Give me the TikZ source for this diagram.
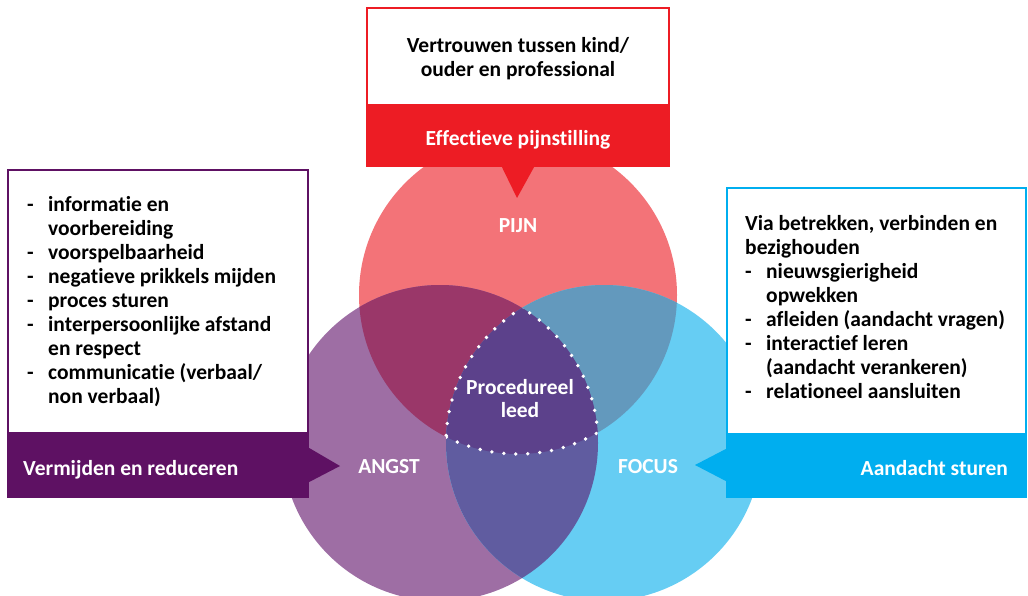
\documentclass[tikz,border=0pt]{standalone}
\usepackage{fontspec}
\setmainfont{Carlito}[Ligatures=NoCommon]
\definecolor{cRed}{HTML}{ED1C24}
\definecolor{cPurp}{HTML}{5E1163}
\definecolor{cBlue}{HTML}{00AEEF}
\definecolor{colA}{HTML}{F37378}
\definecolor{colB}{HTML}{9E6EA4}
\definecolor{colC}{HTML}{66CDF3}
\definecolor{colAB}{HTML}{9A3769}
\definecolor{colAC}{HTML}{6399BD}
\definecolor{colBC}{HTML}{605CA0}
\definecolor{colABC}{HTML}{5C418B}
\def\circA{(518,295) circle[radius=159]}
\def\circB{(440,443) circle[radius=158]}
\def\circC{(604,443) circle[radius=158]}
\newcommand{\itm}[1]{\makebox[21pt][l]{-}#1}
\newcommand{\cnt}[1]{\hspace*{21pt}#1}
\begin{document}
\begin{tikzpicture}[x=1pt,y=-1pt,
  frame/.style={draw=#1, fill=white, line width=2pt, inner sep=0pt, rectangle},
  band/.style={fill=#1, inner sep=0pt, rectangle},
  dotline/.style={draw=white, line width=3.8pt, line cap=round, dash pattern=on 0pt off 12pt},
  body/.style={font=\bfseries\fontsize{21.5}{24}\selectfont, text=black, inner sep=0pt, align=left},
  bandtxt/.style={font=\bfseries\fontsize{21.5}{24}\selectfont, text=white, inner sep=0pt},
  circlbl/.style={font=\bfseries\fontsize{21.5}{23}\selectfont, text=white, inner sep=0pt, align=center}]
\useasboundingbox (0,0) rectangle (1028,596);
% circles
\fill[colA] \circA;
\fill[colB] \circB;
\fill[colC] \circC;
\begin{scope}\clip \circA; \fill[colAB] \circB; \fill[colAC] \circC; \end{scope}
\begin{scope}\clip \circB; \fill[colBC] \circC; \end{scope}
\begin{scope}\clip \circA; \clip \circB; \fill[colABC] \circC; \end{scope}
% dotted core
\begin{scope}\clip \circB; \clip \circC; \draw[dotline] \circA; \end{scope}
\begin{scope}\clip \circA; \clip \circC; \draw[dotline] \circB; \end{scope}
\begin{scope}\clip \circA; \clip \circB; \draw[dotline] \circC; \end{scope}
% circle labels
\node[circlbl, anchor=base] (pijn) at (518,233) {PIJN};
\node[circlbl, anchor=base] (angst) at (389,473) {ANGST};
\node[circlbl, anchor=base] (focus) at (648,473) {FOCUS};
\node[circlbl, anchor=north] (core) at (520,379) {Procedureel\\leed};
% top box
\node[frame=cRed, minimum width=302pt, minimum height=158pt] (topframe) at (518,87) {};
\node[band=cRed, minimum width=304pt, minimum height=63pt] (topband) at (518,135.5) {};
\coordinate (toptip) at (517,198);
\fill[cRed] ([xshift=-16pt]topband.south) -- (toptip) -- ([xshift=16pt]topband.south) -- cycle;
\node[body, align=center, anchor=north] (toptext) at (518,37) {Vertrouwen tussen kind/\\ouder en professional};
\node[bandtxt, anchor=base] (toplabel) at (518,146) {Effectieve pijnstilling};
% left box
\node[frame=cPurp, minimum width=300pt, minimum height=327pt] (leftframe) at (158,333.5) {};
\node[band=cPurp, minimum width=302pt, minimum height=66pt] (leftband) at (158,465) {};
\coordinate (lefttip) at (340,466);
\fill[cPurp] ([yshift=-17pt]leftband.east) -- (lefttip) -- ([yshift=17pt]leftband.east) -- cycle;
\node[body, anchor=north west] (lefttext) at (27,196) {\itm{informatie en}\\\cnt{voorbereiding}\\\itm{voorspelbaarheid}\\\itm{negatieve prikkels mijden}\\\itm{proces sturen}\\\itm{interpersoonlijke afstand}\\\cnt{en respect}\\\itm{communicatie (verbaal/}\\\cnt{non verbaal)}};
\node[bandtxt, anchor=base west] (leftlabel) at (23,475) {Vermijden en reduceren};
% right box
\node[frame=cBlue, minimum width=299pt, minimum height=309pt] (rightframe) at (876.5,342.5) {};
\node[band=cBlue, minimum width=301pt, minimum height=65pt] (rightband) at (876.5,465) {};
\coordinate (righttip) at (695,465);
\fill[cBlue] ([yshift=-16pt]rightband.west) -- (righttip) -- ([yshift=16pt]rightband.west) -- cycle;
\node[body, anchor=north west] (righttext) at (745,215) {Via betrekken, verbinden en\\bezighouden\\\itm{nieuwsgierigheid}\\\cnt{opwekken}\\\itm{afleiden (aandacht vragen)}\\\itm{interactief leren}\\\cnt{(aandacht verankeren)}\\\itm{relationeel aansluiten}};
\node[bandtxt, anchor=base east] (rightlabel) at (1008,475) {Aandacht sturen};
\end{tikzpicture}
\end{document}
